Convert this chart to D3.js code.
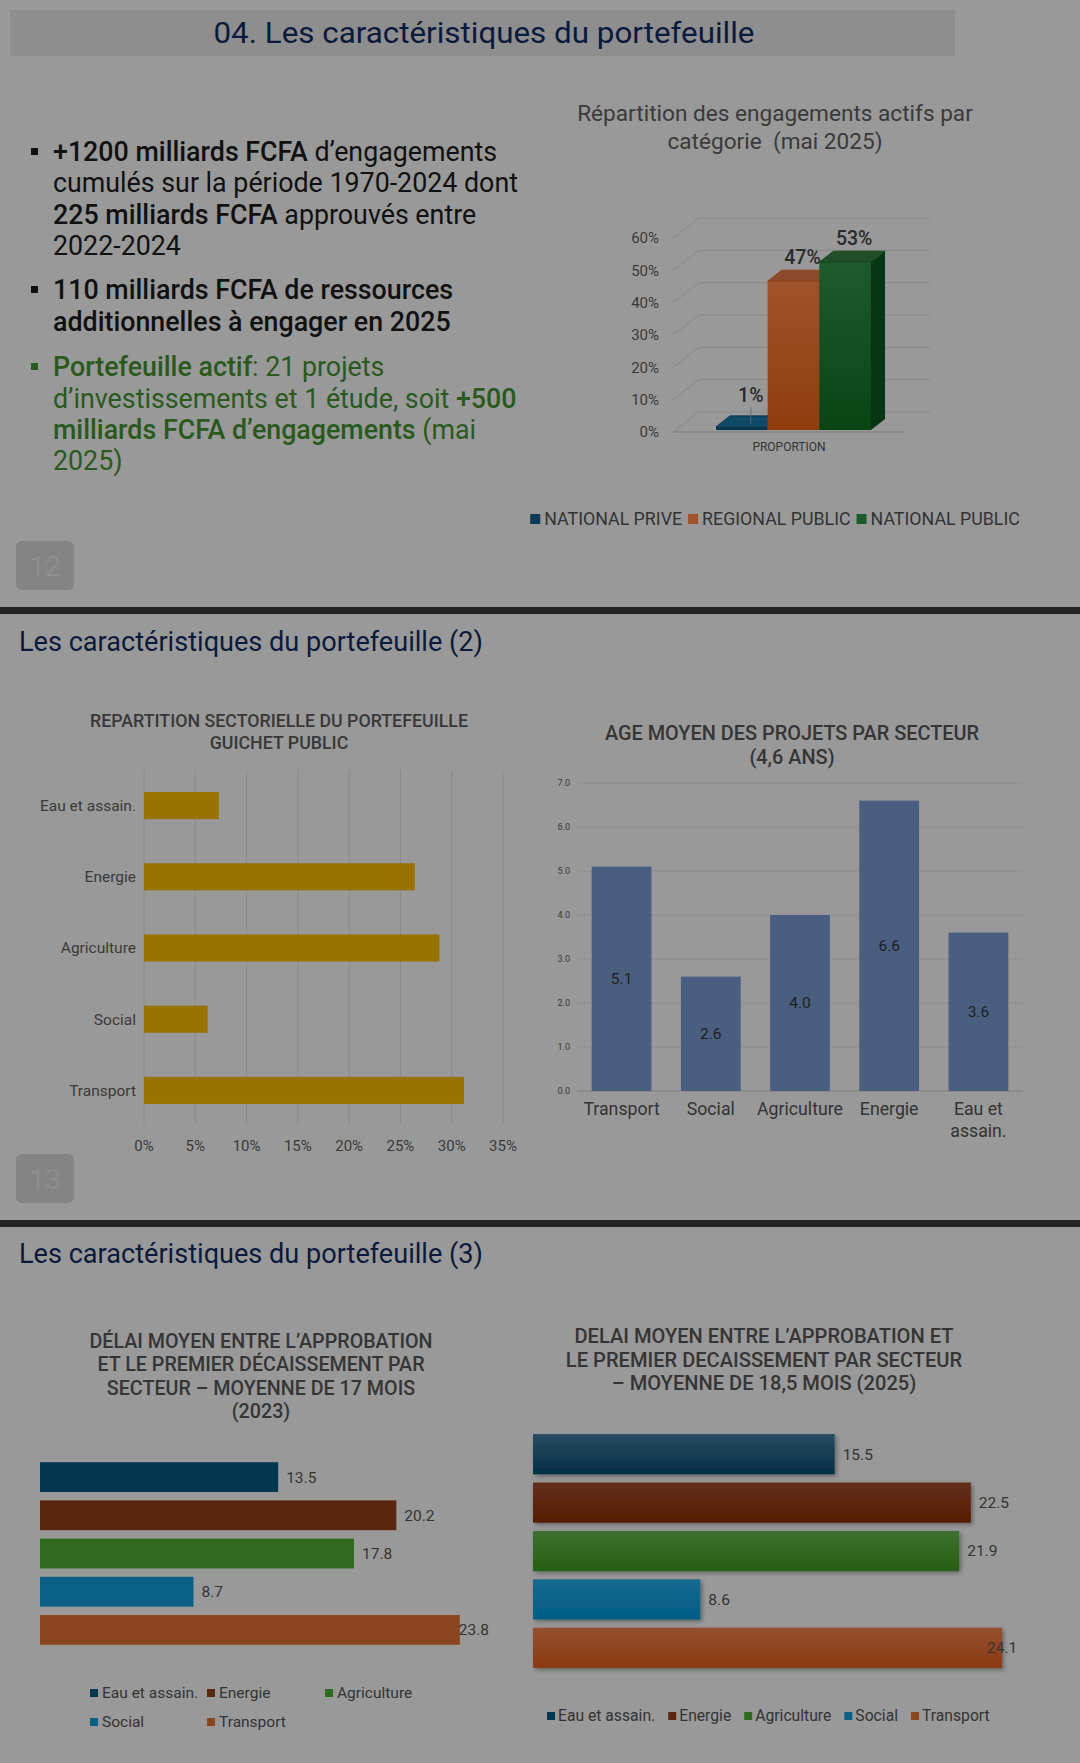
<!DOCTYPE html>
<html><head><meta charset="utf-8">
<script src="https://cdn.jsdelivr.net/npm/d3@7"></script>
<style>
body{margin:0;background:#999999;}
svg{display:block;font-family:Roboto,"Noto Sans",sans-serif;}
</style></head><body>
<svg id="c" width="1080" height="1763"></svg>
<script>
// ---------- DATA ----------
const categories1 = ["NATIONAL PRIVE", "REGIONAL PUBLIC", "NATIONAL PUBLIC"];
const values1 = [1, 47, 53];
const ticks1 = [0, 10, 20, 30, 40, 50, 60];

const sectorsShare = ["Eau et assain.", "Energie", "Agriculture", "Social", "Transport"];
const valuesShare = [7.3, 26.4, 28.8, 6.2, 31.2];
const ticksShare = [0, 5, 10, 15, 20, 25, 30, 35];

const sectorsAge = ["Transport", "Social", "Agriculture", "Energie", "Eau et assain."];
const valuesAge = [5.1, 2.6, 4.0, 6.6, 3.6];
const ticksAge = [0, 1, 2, 3, 4, 5, 6, 7];

const sectorsDelay = ["Eau et assain.", "Energie", "Agriculture", "Social", "Transport"];
const delay2023 = [13.5, 20.2, 17.8, 8.7, 23.8];
const delay2025 = [15.5, 22.5, 21.9, 8.6, 24.1];

// ---------- STYLES ----------
const navy = "#0b1a3c";
const colors1 = {front:["#0a3a55","#a0522a","#1d5a2d"], frontB:["#06304a","#8f3d0f","#094513"],
                 top:["#0f4a69","#8c4a2c","#224d29"], side:["#05293e","#6e2e0a","#063612"]};
const delayColors = ["#03374f", "#5a2610", "#2f6a1f", "#0a6086", "#8c4521"];
const delayTop = ["#2a4c62", "#64301e", "#3d7130", "#176a90", "#95502f"];
const delayBot = ["#022f45", "#561d00", "#285f12", "#005c83", "#8a3910"];

const svg = d3.select("#c");
const defs = svg.append("defs");
svg.append("rect").attr("width",1080).attr("height",1763).attr("fill","#999999");

// ---------- SECTION 1 ----------
svg.append("rect").attr("x",10).attr("y",10).attr("width",945).attr("height",46).attr("fill","#8e8e8e");
svg.append("text").attr("x",484).attr("y",32).attr("dy","0.35em").attr("text-anchor","middle")
  .attr("font-size",30).attr("fill",navy).attr("textLength",541).attr("lengthAdjust","spacingAndGlyphs")
  .text("04. Les caractéristiques du portefeuille");

// bullets
const bulletLines = [
  {y:152, c:"#111111", seg:[["+1200 milliards FCFA",500],[" d’engagements",400]], bullet:true},
  {y:183, c:"#111111", seg:[["cumulés sur la période 1970-2024 dont",400]]},
  {y:215, c:"#111111", seg:[["225 milliards FCFA",500],[" approuvés entre",400]]},
  {y:246, c:"#111111", seg:[["2022-2024",400]]},
  {y:290, c:"#111111", seg:[["110 milliards FCFA de ressources",500]], bullet:true},
  {y:322, c:"#111111", seg:[["additionnelles à engager en 2025",500]]},
  {y:367, c:"#2a591e", seg:[["Portefeuille actif",500],[": 21 projets",400]], bullet:true},
  {y:399, c:"#2a591e", seg:[["d’investissements et 1 étude, soit ",400],["+500",500]]},
  {y:430, c:"#2a591e", seg:[["milliards FCFA d’engagements",500],[" (mai",400]]},
  {y:461, c:"#2a591e", seg:[["2025)",400]]}
];
bulletLines.forEach(l => {
  if (l.bullet) svg.append("rect").attr("x",31).attr("y",l.y-4).attr("width",7).attr("height",7).attr("fill",l.c);
  const t = svg.append("text").attr("x",53).attr("y",l.y).attr("dy","0.35em").attr("font-size",26.8).attr("fill",l.c);
  l.seg.forEach(s => t.append("tspan").attr("font-weight",s[1]).text(s[0]));
});

// chart 1 title
["Répartition des engagements actifs par","catégorie  (mai 2025)"].forEach((s,i)=>{
  svg.append("text").attr("x",775).attr("y",113+i*28).attr("dy","0.35em").attr("text-anchor","middle")
    .attr("font-size",22.6).attr("fill","#3a3a3a").style("white-space","pre").text(s);
});

const g1 = svg.append("g");
const y1 = d3.scaleLinear().domain([0,60]).range([432,238]);
const wallX0 = 673, wallX1 = 904, wdx = 26, wdy = -20;
ticks1.forEach(t => {
  g1.append("line").attr("x1",wallX0).attr("y1",y1(t)).attr("x2",wallX0+wdx).attr("y2",y1(t)+wdy)
    .attr("stroke","#898989").attr("stroke-width",1);
  g1.append("line").attr("x1",wallX0+wdx).attr("y1",y1(t)+wdy).attr("x2",wallX1+wdx).attr("y2",y1(t)+wdy)
    .attr("stroke","#898989").attr("stroke-width",1);
  g1.append("text").attr("x",659).attr("y",y1(t)).attr("dy","0.35em").attr("text-anchor","end")
    .attr("font-size",15).attr("fill","#3a3a3a").text(t+"%");
});
g1.append("line").attr("x1",wallX0).attr("y1",y1(0)).attr("x2",wallX1).attr("y2",y1(0))
  .attr("stroke","#858585").attr("stroke-width",1.5);

const xb = d3.scaleBand().domain(categories1).range([716,871]);
const yb = d3.scaleLinear().domain([0,60]).range([430,240]);
const bdx = 14, bdy = -11;
categories1.forEach((c,i) => {
  const gid = "g1grad"+i;
  const gr = defs.append("linearGradient").attr("id",gid).attr("x1",0).attr("y1",0).attr("x2",0).attr("y2",1);
  gr.append("stop").attr("offset","0%").attr("stop-color",colors1.front[i]);
  gr.append("stop").attr("offset","100%").attr("stop-color",colors1.frontB[i]);
  const x = xb(c), w = xb.bandwidth(), top = yb(values1[i]), bot = yb(0);
  g1.append("polygon").attr("points",[[x+w,top],[x+w+bdx,top+bdy],[x+w+bdx,bot+bdy],[x+w,bot]].map(p=>p.join(",")).join(" "))
    .attr("fill",colors1.side[i]);
  g1.append("rect").attr("x",x).attr("y",top).attr("width",w).attr("height",bot-top).attr("fill","url(#"+gid+")");
  g1.append("polygon").attr("points",[[x,top],[x+bdx,top+bdy],[x+w+bdx,top+bdy],[x+w,top]].map(p=>p.join(",")).join(" "))
    .attr("fill",colors1.top[i]).attr("stroke",colors1.frontB[i]).attr("stroke-width",0.8);
  const lx = x + w/2 + 9;
  const ly = values1[i] < 5 ? top - 32 : top - 24;
  g1.append("text").attr("x",lx).attr("y",ly).attr("dy","0.35em").attr("text-anchor","middle")
    .attr("font-size",19.5).attr("font-weight",500).attr("fill","#2a2a2a").text(values1[i]+"%");
  if (values1[i] < 5) {
    g1.append("line").attr("x1",lx).attr("y1",ly+12).attr("x2",lx).attr("y2",top-3).attr("stroke","#6a6a6a").attr("stroke-width",0.8);
  }
});
g1.append("text").attr("x",789).attr("y",447).attr("dy","0.35em").attr("text-anchor","middle")
  .attr("font-size",12).attr("fill","#333").text("PROPORTION");

// legend 1 (flowing)
(function(){
  const lg = svg.append("g");
  let x = 0;
  categories1.forEach((c,i) => {
    lg.append("rect").attr("x",x).attr("y",514).attr("width",10).attr("height",10).attr("fill",colors1.front[i]);
    const t = lg.append("text").attr("x",x+14).attr("y",519).attr("dy","0.35em").attr("font-size",17.8).attr("fill","#333").text(c);
    x += 14 + t.node().getComputedTextLength() + 6;
  });
  const total = x - 6;
  lg.attr("transform","translate("+(775-total/2)+",0)");
})();

// page boxes
function pageBox(y, n){
  svg.append("rect").attr("x",16).attr("y",y).attr("width",58).attr("height",49).attr("rx",6).attr("fill","#848484");
  svg.append("text").attr("x",45).attr("y",y+25).attr("dy","0.35em").attr("text-anchor","middle")
    .attr("font-size",28).attr("fill","#8f8f8f").text(n);
}
pageBox(541,"12");
svg.append("rect").attr("x",0).attr("y",607).attr("width",1080).attr("height",7).attr("fill","#232323");

// ---------- SECTION 2 ----------
svg.append("text").attr("x",19).attr("y",642).attr("dy","0.35em").attr("font-size",27).attr("fill",navy)
  .attr("textLength",464).attr("lengthAdjust","spacingAndGlyphs").text("Les caractéristiques du portefeuille (2)");

["REPARTITION SECTORIELLE DU PORTEFEUILLE","GUICHET PUBLIC"].forEach((s,i)=>{
  svg.append("text").attr("x",279).attr("y",721+i*22).attr("dy","0.35em").attr("text-anchor","middle")
    .attr("font-size",17.8).attr("font-weight",500).attr("fill","#383838").text(s);
});
const xs = d3.scaleLinear().domain([0,35]).range([144,503]);
const ys = d3.scaleBand().domain(sectorsShare).range([770,1126]).paddingInner(0.62).paddingOuter(0.31);
const g2 = svg.append("g");
ticksShare.forEach(t => {
  g2.append("line").attr("x1",xs(t)).attr("x2",xs(t)).attr("y1",770).attr("y2",1124).attr("stroke","#8a8a8a").attr("stroke-width",1);
  g2.append("text").attr("x",xs(t)).attr("y",1146).attr("dy","0.35em").attr("text-anchor","middle")
    .attr("font-size",15).attr("fill","#3a3a3a").text(t+"%");
});
sectorsShare.forEach((s,i) => {
  g2.append("rect").attr("x",xs(0)).attr("y",ys(s)).attr("width",xs(valuesShare[i])-xs(0)).attr("height",ys.bandwidth())
    .attr("fill","#997300");
  g2.append("text").attr("x",136).attr("y",ys(s)+ys.bandwidth()/2).attr("dy","0.35em").attr("text-anchor","end")
    .attr("font-size",15.5).attr("fill","#3a3a3a").text(s);
});

// Age chart
["AGE MOYEN DES PROJETS PAR SECTEUR","(4,6 ANS)"].forEach((s,i)=>{
  svg.append("text").attr("x",792).attr("y",733+i*24).attr("dy","0.35em").attr("text-anchor","middle")
    .attr("font-size",19.9).attr("font-weight",500).attr("fill","#353535").text(s);
});
const ya = d3.scaleLinear().domain([0,7]).range([1091,783]);
const xa = d3.scaleBand().domain(sectorsAge).range([577,1023]).paddingInner(0.33).paddingOuter(0.165);
const g3 = svg.append("g");
ticksAge.forEach(t => {
  g3.append("line").attr("x1",577).attr("x2",1023).attr("y1",ya(t)).attr("y2",ya(t))
    .attr("stroke", t===0 ? "#7d7d7d" : "#8c8c8c").attr("stroke-width",1);
  g3.append("text").attr("x",570).attr("y",ya(t)).attr("dy","0.35em").attr("text-anchor","end")
    .attr("font-size",9).attr("fill","#3a3a3a").text(t.toFixed(1));
});
sectorsAge.forEach((s,i) => {
  const v = valuesAge[i];
  g3.append("rect").attr("x",xa(s)).attr("y",ya(v)).attr("width",xa.bandwidth()).attr("height",ya(0)-ya(v))
    .attr("fill","#4a5e7f");
  g3.append("text").attr("x",xa(s)+xa.bandwidth()/2).attr("y",(ya(v)+ya(0))/2).attr("dy","0.35em")
    .attr("text-anchor","middle").attr("font-size",15.5).attr("fill","#1f1f1f").text(v.toFixed(1));
  const parts = s === "Eau et assain." ? ["Eau et","assain."] : [s];
  parts.forEach((p,j) => {
    g3.append("text").attr("x",xa(s)+xa.bandwidth()/2).attr("y",1109+j*22).attr("dy","0.35em")
      .attr("text-anchor","middle").attr("font-size",17.7).attr("fill","#333").text(p);
  });
});
pageBox(1154,"13");
svg.append("rect").attr("x",0).attr("y",1220).attr("width",1080).attr("height",7).attr("fill","#232323");

// ---------- SECTION 3 ----------
svg.append("text").attr("x",19).attr("y",1254).attr("dy","0.35em").attr("font-size",27).attr("fill",navy)
  .attr("textLength",464).attr("lengthAdjust","spacingAndGlyphs").text("Les caractéristiques du portefeuille (3)");

["DÉLAI MOYEN ENTRE L’APPROBATION","ET LE PREMIER DÉCAISSEMENT PAR","SECTEUR – MOYENNE DE 17 MOIS","(2023)"].forEach((s,i)=>{
  svg.append("text").attr("x",261).attr("y",1341+i*23.5).attr("dy","0.35em").attr("text-anchor","middle")
    .attr("font-size",19.7).attr("font-weight",500).attr("fill","#353535").text(s);
});
const xd1 = d3.scaleLinear().domain([0,25]).range([40,481]);
const yd1 = d3.scaleBand().domain(sectorsDelay).range([1458,1649]).paddingInner(0.22).paddingOuter(0.11);
const g4 = svg.append("g");
sectorsDelay.forEach((s,i) => {
  const v = delay2023[i];
  g4.append("rect").attr("x",xd1(0)).attr("y",yd1(s)).attr("width",xd1(v)-xd1(0)).attr("height",yd1.bandwidth())
    .attr("fill",delayColors[i]);
  const last = i === sectorsDelay.length-1;
  g4.append("text").attr("x",xd1(v)+(last?-1:8)).attr("y",yd1(s)+yd1.bandwidth()/2).attr("dy","0.35em")
    .attr("font-size",15.5).attr("fill","#333").text(v.toFixed(1));
});
// legend left (2 rows)
const legCols = [90,207,325];
sectorsDelay.forEach((s,i) => {
  const col = i % 3, row = Math.floor(i/3);
  const x = legCols[col], y = 1693 + row*29;
  svg.append("rect").attr("x",x).attr("y",y-4).attr("width",8).attr("height",8).attr("fill",delayColors[i]);
  svg.append("text").attr("x",x+12).attr("y",y).attr("dy","0.35em").attr("font-size",15.5).attr("fill","#333").text(s);
});

// right chart 2025
["DELAI MOYEN ENTRE L’APPROBATION ET","LE PREMIER DECAISSEMENT PAR SECTEUR","– MOYENNE DE 18,5 MOIS (2025)"].forEach((s,i)=>{
  svg.append("text").attr("x",764).attr("y",1336+i*23.5).attr("dy","0.35em").attr("text-anchor","middle")
    .attr("font-size",20.1).attr("font-weight",500).attr("fill","#353535").text(s);
});
const sh = defs.append("filter").attr("id","shadow").attr("x","-5%").attr("y","-20%").attr("width","115%").attr("height","160%");
sh.append("feDropShadow").attr("dx",2).attr("dy",2).attr("stdDeviation",2).attr("flood-color","#000").attr("flood-opacity",0.35);
const xd2 = d3.scaleLinear().domain([0,25]).range([533,1019.5]);
const yd2 = d3.scaleBand().domain(sectorsDelay).range([1430,1672]).paddingInner(0.17).paddingOuter(0.085);
const g5 = svg.append("g");
sectorsDelay.forEach((s,i) => {
  const v = delay2025[i];
  const gid = "dg"+i;
  const gr = defs.append("linearGradient").attr("id",gid).attr("x1",0).attr("y1",0).attr("x2",0).attr("y2",1);
  gr.append("stop").attr("offset","0%").attr("stop-color",delayTop[i]);
  gr.append("stop").attr("offset","100%").attr("stop-color",delayBot[i]);
  g5.append("rect").attr("x",xd2(0)).attr("y",yd2(s)).attr("width",xd2(v)-xd2(0)).attr("height",yd2.bandwidth())
    .attr("fill","url(#"+gid+")").attr("filter","url(#shadow)");
  const last = i === sectorsDelay.length-1;
  g5.append("text").attr("x",xd2(v)+(last?-15:8)).attr("y",yd2(s)+yd2.bandwidth()/2).attr("dy","0.35em")
    .attr("font-size",15.5).attr("fill","#333").text(v.toFixed(1));
});
// legend right (flow)
(function(){
  let x = 547;
  sectorsDelay.forEach((s,i) => {
    svg.append("rect").attr("x",x).attr("y",1712).attr("width",8).attr("height",8).attr("fill",delayColors[i]);
    const t = svg.append("text").attr("x",x+11).attr("y",1716).attr("dy","0.35em").attr("font-size",15.7).attr("fill","#333").text(s);
    x += 11 + t.node().getComputedTextLength() + 13;
  });
})();
</script>
</body></html>
